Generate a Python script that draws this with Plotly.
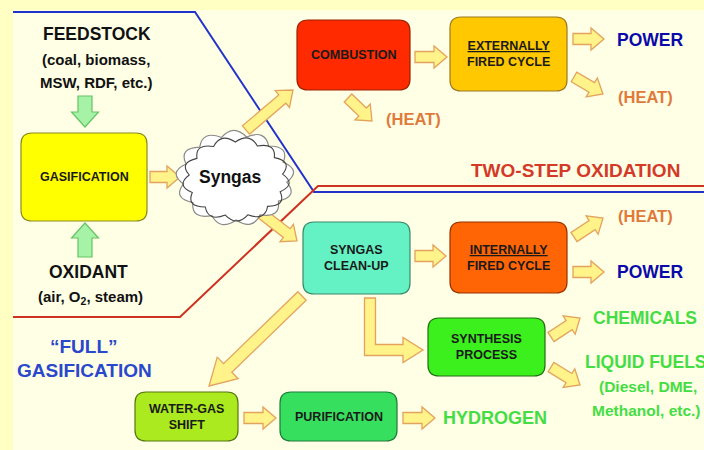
import math
import plotly.graph_objects as go

W, H = 704, 450
FONT = "Liberation Sans, Arial, sans-serif"

# ---- diagram content -------------------------------------------------------
# boxes: (label, x0, y0, x1, y1, fill, border)
boxes = [
    ("GASIFICATION", 21, 133, 147, 221, "#FFFF00", "#8A8A22"),
    ("COMBUSTION", 297, 20, 410, 90, "#FF2A00", "#992200"),
    ("<u>EXTERNALLY</u><br>FIRED CYCLE", 450, 17, 567, 91, "#FFC800", "#9A7A22"),
    ("SYNGAS<br>CLEAN-UP", 303, 222, 410, 294, "#64F2C4", "#3A8A6A"),
    ("<u>INTERNALLY</u><br>FIRED CYCLE", 450, 222, 567, 293, "#FF6405", "#993300"),
    ("SYNTHESIS<br>PROCESS", 428, 318, 545, 376, "#3CF01E", "#207010"),
    ("WATER-GAS<br>SHIFT", 135, 392, 238, 441, "#AAEA1E", "#557711"),
    ("PURIFICATION", 280, 392, 397, 441, "#36E05E", "#1E7A3A"),
]

# free text labels: (text, x, y, size, color)
labels = [
    ("FEEDSTOCK", 97, 34, 17.5, "#111111"),
    ("(coal, biomass,", 96, 59, 15, "#111111"),
    ("MSW, RDF, etc.)", 96, 82, 15, "#111111"),
    ("OXIDANT", 88, 272, 17.5, "#111111"),
    ("(air, O<sub>2</sub>, steam)", 90, 297, 15, "#111111"),
    ("\u201cFULL\u201d", 84, 346, 19, "#2A48CC"),
    ("GASIFICATION", 84, 370, 19, "#2A48CC"),
    ("Syngas", 230, 177, 17.5, "#111111"),
    ("POWER", 650, 40, 17.5, "#0A0AAA"),
    ("(HEAT)", 645, 97, 16.5, "#E07A3A"),
    ("(HEAT)", 413, 119, 16.5, "#E07A3A"),
    ("TWO-STEP OXIDATION", 575, 170, 19, "#D43A28"),
    ("(HEAT)", 645, 216, 16.5, "#E07A3A"),
    ("POWER", 650, 272, 17.5, "#0A0AAA"),
    ("CHEMICALS", 645, 318, 17.5, "#44DD44"),
    ("LIQUID FUELS", 646, 362, 17.5, "#44DD44"),
    ("(Diesel, DME,", 648, 386, 15.5, "#44DD44"),
    ("Methanol, etc.)", 646, 410, 15.5, "#44DD44"),
    ("HYDROGEN", 495, 418, 18, "#44DD44"),
]

# straight block arrows: (x_start, y_start, x_end, y_end, shaft, head, head_len)
arrows = [
    (150, 177, 180, 177, 11, 22, 13),      # gasification -> syngas
    (246, 130, 293, 90, 11, 22, 14),       # syngas -> combustion
    (262, 214, 297, 241, 11, 22, 13),      # syngas -> clean-up
    (415, 57, 447, 57, 11, 22, 13),        # combustion -> EFC
    (348, 98, 372, 121, 11, 22, 13),       # combustion -> heat
    (573, 39, 604, 39, 11, 22, 13),        # EFC -> power
    (574, 77, 603, 94, 11, 22, 13),        # EFC -> heat
    (415, 256, 446, 256, 11, 22, 13),      # clean-up -> IFC
    (574, 237, 603, 218, 11, 22, 13),      # IFC -> heat
    (573, 272, 604, 272, 11, 22, 13),      # IFC -> power
    (551, 337, 580, 318, 11, 22, 13),      # synthesis -> chemicals
    (551, 367, 580, 385, 11, 22, 13),      # synthesis -> liquid fuels
    (302, 296, 209, 386, 12, 30, 26),      # clean-up -> water-gas shift
    (244, 418, 276, 418, 11, 22, 13),      # WGS -> purification
    (403, 418, 435, 418, 11, 22, 13),      # purification -> hydrogen
]
green_arrows = [
    (85, 96, 85, 127, 14, 27, 15),         # feedstock -> gasification
    (85, 257, 85, 223, 14, 27, 15),        # oxidant -> gasification
]
# bent arrow clean-up -> synthesis
bent = (370, 298, 350, 423, 11, 25, 20)

# region lines
blue_line = [(13, 12), (195, 12), (314, 192), (704, 192)]
red_line = [(13, 317), (180, 317), (318, 186), (704, 186)]

# cloud
cloud = (235, 178, 52, 42, 13)

ARROW_FILL, ARROW_LINE = "#FFF38A", "#E3A35E"
GREEN_FILL, GREEN_LINE = "#A6F2A6", "#66C466"


# ---- helpers ---------------------------------------------------------------
def rrect(x0, y0, x1, y1, r=11):
    return (f"M{x0+r},{y0} L{x1-r},{y0} Q{x1},{y0} {x1},{y0+r} "
            f"L{x1},{y1-r} Q{x1},{y1} {x1-r},{y1} L{x0+r},{y1} "
            f"Q{x0},{y1} {x0},{y1-r} L{x0},{y0+r} Q{x0},{y0} {x0+r},{y0} Z")


def poly(pts):
    return "M" + " L".join(f"{x:.2f},{y:.2f}" for x, y in pts) + " Z"


def block_arrow(x0, y0, x1, y1, w, hw, hl):
    L = math.hypot(x1 - x0, y1 - y0)
    dx, dy = (x1 - x0) / L, (y1 - y0) / L
    nx, ny = -dy, dx
    bx, by = x1 - dx * hl, y1 - dy * hl
    pts = [
        (x0 + nx * w / 2, y0 + ny * w / 2),
        (bx + nx * w / 2, by + ny * w / 2),
        (bx + nx * hw / 2, by + ny * hw / 2),
        (x1, y1),
        (bx - nx * hw / 2, by - ny * hw / 2),
        (bx - nx * w / 2, by - ny * w / 2),
        (x0 - nx * w / 2, y0 - ny * w / 2),
    ]
    return poly(pts)


def bent_arrow(xv, yt, yc, xt, w, hw, hl):
    xb = xt - hl
    pts = [
        (xv - w / 2, yt), (xv + w / 2, yt), (xv + w / 2, yc - w / 2),
        (xb, yc - w / 2), (xb, yc - hw / 2), (xt, yc), (xb, yc + hw / 2),
        (xb, yc + w / 2), (xv - w / 2, yc + w / 2),
    ]
    return poly(pts)


def cloud_path(cx, cy, rx, ry, n, bump=1.28, phase=0.0):
    pts = []
    for i in range(n + 1):
        a = 2 * math.pi * i / n + phase
        pts.append((cx + rx * math.cos(a), cy + ry * math.sin(a)))
    d = f"M{pts[0][0]:.2f},{pts[0][1]:.2f}"
    for i in range(n):
        am = 2 * math.pi * (i + 0.5) / n + phase
        qx = cx + rx * bump * math.cos(am)
        qy = cy + ry * bump * math.sin(am)
        d += f" Q{qx:.2f},{qy:.2f} {pts[i+1][0]:.2f},{pts[i+1][1]:.2f}"
    return d + " Z"


# ---- figure ----------------------------------------------------------------
shapes = []
shapes.append(dict(type="rect", x0=13, y0=10, x1=704, y1=450,
                   fillcolor="#FFFFE6", line=dict(width=0), layer="below"))

for pts, col in ((blue_line, "#2233CC"), (red_line, "#CC3322")):
    d = "M" + " L".join(f"{x},{y}" for x, y in pts)
    shapes.append(dict(type="path", path=d, line=dict(color=col, width=2)))

for lab, x0, y0, x1, y1, fill, border in boxes:
    shapes.append(dict(type="path", path=rrect(x0, y0, x1, y1),
                       fillcolor=fill, line=dict(color=border, width=1.2)))

for a in arrows:
    shapes.append(dict(type="path", path=block_arrow(*a),
                       fillcolor=ARROW_FILL, line=dict(color=ARROW_LINE, width=1.3)))
for a in green_arrows:
    shapes.append(dict(type="path", path=block_arrow(*a),
                       fillcolor=GREEN_FILL, line=dict(color=GREEN_LINE, width=1.2)))
shapes.append(dict(type="path", path=bent_arrow(*bent),
                   fillcolor=ARROW_FILL, line=dict(color=ARROW_LINE, width=1.3)))

cx, cy, rx, ry, n = cloud
shapes.append(dict(type="path", path=cloud_path(cx, cy, rx, ry, n, 1.30, 0.1),
                   fillcolor="#FFFFFF", line=dict(color="#8A8A8A", width=1.2)))
shapes.append(dict(type="path", path=cloud_path(cx + 1, cy + 1, rx - 5, ry - 5, n, 1.30, 0.35),
                   fillcolor="rgba(255,255,255,0)", line=dict(color="#444444", width=1.1)))

annotations = []
for lab, x0, y0, x1, y1, fill, border in boxes:
    annotations.append(dict(x=(x0 + x1) / 2, y=(y0 + y1) / 2, text=f"<b>{lab}</b>",
                            showarrow=False, xref="x", yref="y",
                            font=dict(family=FONT, size=12.5, color="#1A1A1A")))
for txt, x, y, size, col in labels:
    annotations.append(dict(x=x, y=y, text=f"<b>{txt}</b>", showarrow=False,
                            xref="x", yref="y",
                            font=dict(family=FONT, size=size, color=col)))

fig = go.Figure()
fig.update_layout(
    width=W, height=H,
    margin=dict(l=0, r=0, t=0, b=0),
    paper_bgcolor="#FFFFC4", plot_bgcolor="#FFFFC4",
    xaxis=dict(range=[0, W], visible=False, fixedrange=True),
    yaxis=dict(range=[H, 0], visible=False, fixedrange=True),
    shapes=shapes, annotations=annotations, showlegend=False,
)
fig.write_html("out.html", config=dict(displayModeBar=False),
               post_script="document.body.style.margin='0';document.body.style.overflow='hidden';")
